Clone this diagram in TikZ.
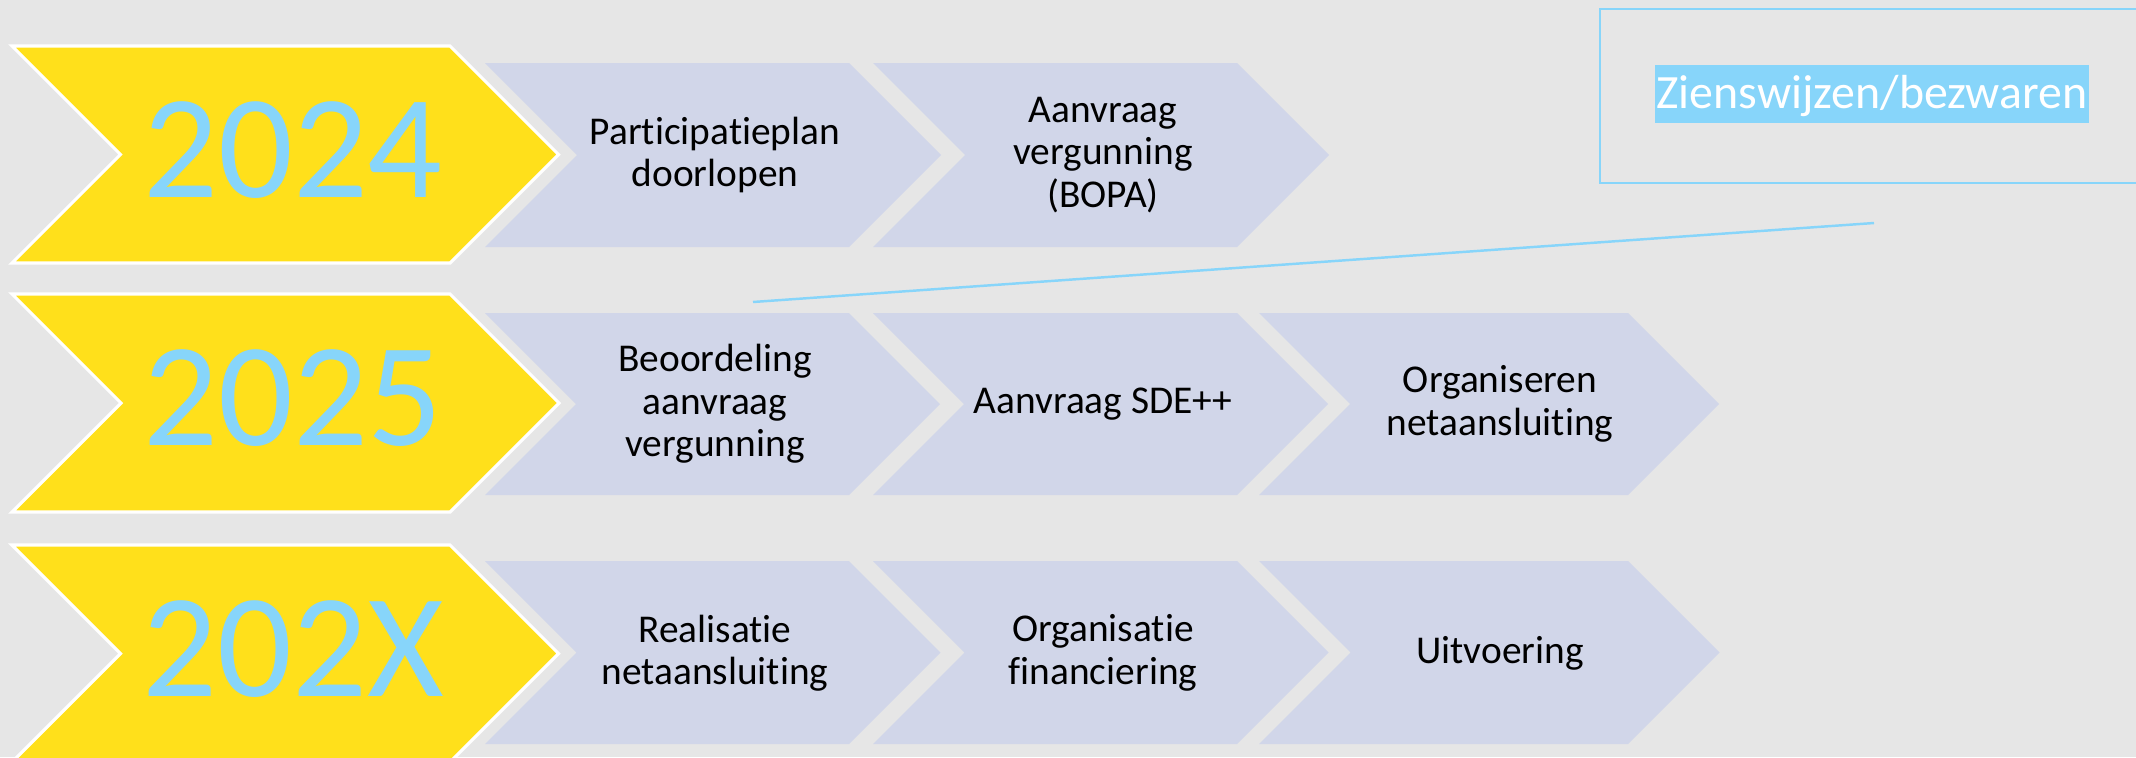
\documentclass[tikz,border=0pt]{standalone}
\usepackage{fontspec}
\setmainfont{Carlito}[Ligatures=NoCommon]
\definecolor{bg}{HTML}{E6E6E6}
\definecolor{yel}{HTML}{FFE01B}
\definecolor{lblue}{HTML}{87D5FA}
\definecolor{lav}{HTML}{D1D6E9}
\newcommand{\mychev}[5]{% style, x0, xr, ytop, ybot
  \pgfmathsetmacro{\dd}{(#5-#4)/2}
  \pgfmathsetmacro{\ym}{(#5+#4)/2}
  \path[#1] (#2,#4) -- (#3,#4) -- ({#3+\dd},\ym) -- (#3,#5) -- (#2,#5) -- ({#2+\dd},\ym) -- cycle;}
\tikzset{
  yearbox/.style={fill=yel, draw=white, line width=0.9pt},
  stepbox/.style={fill=lav},
  yeartxt/.style={text=lblue, font=\fontsize{42}{50}\selectfont, inner sep=0pt},
  steptxt/.style={align=center, font=\fontsize{11.2}{12.1}\selectfont, inner sep=0pt},
}
\begin{document}
\begin{tikzpicture}[x=0.01cm, y=-0.01cm]
\useasboundingbox (0,0) rectangle (2136,757);
\fill[bg] (0,0) rectangle (2136,757);
\begin{scope}
\clip (0,0) rectangle (2136,757);
% row 1
\mychev{yearbox}{12}{450}{46}{263}
\mychev{stepbox}{485}{849}{63}{247}
\mychev{stepbox}{873}{1237}{63}{247}
% row 2
\mychev{yearbox}{12}{450}{294}{512}
\mychev{stepbox}{485}{849}{313}{495}
\mychev{stepbox}{873}{1237}{313}{495}
\mychev{stepbox}{1259}{1628}{313}{495}
% row 3
\mychev{yearbox}{12}{450}{545}{762}
\mychev{stepbox}{485}{849}{561}{744}
\mychev{stepbox}{873}{1237}{561}{744}
\mychev{stepbox}{1259}{1628}{561}{744}
\end{scope}
% year labels
\node[yeartxt] (y1) at (293,150) {2024};
\node[yeartxt] (y2) at (293,398) {2025};
\node[yeartxt] (y3) at (293,649) {202X};
% step labels
\node[steptxt] (s11) at (715,155) {Participatieplan\\doorlopen};
\node[steptxt] (s12) at (1103,155) {Aanvraag\\vergunning\\(BOPA)};
\node[steptxt] (s21) at (715,404) {Beoordeling\\aanvraag\\vergunning};
\node[steptxt] (s22) at (1103,404) {Aanvraag SDE++};
\node[steptxt] (s23) at (1500,404) {Organiseren\\netaansluiting};
\node[steptxt] (s31) at (715,653) {Realisatie\\netaansluiting};
\node[steptxt] (s32) at (1103,653) {Organisatie\\financiering};
\node[steptxt] (s33) at (1500,653) {Uitvoering};
% objections box
\draw[lblue, line width=0.8pt] (2140,9) -- (1600,9) -- (1600,183) -- (2140,183);
\node[fill=lblue, text=white, inner xsep=0.5pt, inner ysep=0pt, text height=12.4pt, text depth=4.2pt,
      font=\fontsize{13.6}{16}\selectfont] (zb) at (1872,94) {Zienswijzen/bezwaren};
\coordinate (la) at (753,302);
\coordinate (lb) at (1874,223);
\draw[lblue, line width=0.7pt] (la) -- (lb);
\end{tikzpicture}
\end{document}
